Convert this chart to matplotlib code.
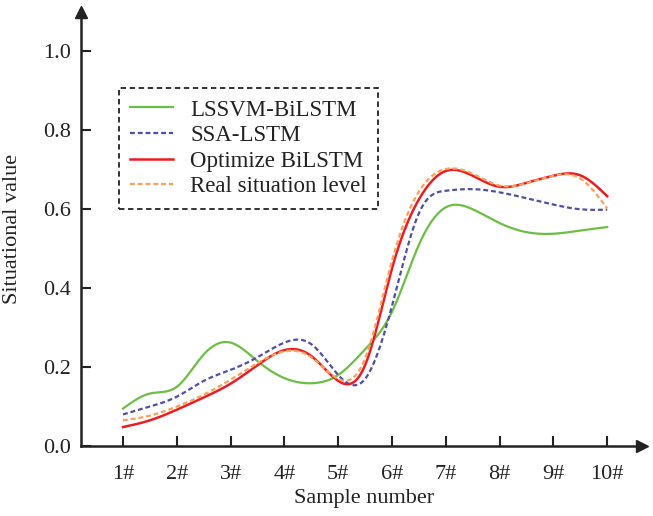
import numpy as np
import matplotlib
matplotlib.use("Agg")
import matplotlib.pyplot as plt

# ─── data (half-sample steps) ─────────────────────────────────────
samples     = np.arange(1, 10.5, 0.5)
tick_pos    = list(range(1, 11))
tick_labels = [f"{i}#" for i in tick_pos]

lssvm_bilstm = [0.095, 0.133, 0.150, 0.232, 0.262, 0.215, 0.172, 0.159, 0.180, 0.245,
                0.340, 0.510, 0.605, 0.600, 0.565, 0.542, 0.538, 0.546, 0.555]
ssa_lstm     = [0.080, 0.100, 0.125, 0.165, 0.193, 0.225, 0.262, 0.258, 0.180, 0.170,
                0.355, 0.590, 0.647, 0.651, 0.643, 0.628, 0.612, 0.600, 0.599]
opt_bilstm   = [0.048, 0.065, 0.092, 0.123, 0.158, 0.205, 0.243, 0.228, 0.165, 0.205,
                0.450, 0.625, 0.697, 0.685, 0.657, 0.667, 0.685, 0.686, 0.633]
real_level   = [0.065, 0.077, 0.100, 0.130, 0.168, 0.210, 0.240, 0.225, 0.170, 0.222,
                0.470, 0.645, 0.702, 0.690, 0.660, 0.666, 0.685, 0.678, 0.602]


def smooth(x, y, n=500):
    """natural cubic spline through the read points"""
    x = np.asarray(x, float); y = np.asarray(y, float)
    k = len(x); h = np.diff(x)
    A = np.zeros((k, k)); b = np.zeros(k)
    A[0, 0] = A[-1, -1] = 1
    for i in range(1, k - 1):
        A[i, i - 1] = h[i - 1]; A[i, i] = 2 * (h[i - 1] + h[i]); A[i, i + 1] = h[i]
        b[i] = 6 * ((y[i + 1] - y[i]) / h[i] - (y[i] - y[i - 1]) / h[i - 1])
    M = np.linalg.solve(A, b)
    xs = np.linspace(x[0], x[-1], n)
    idx = np.clip(np.searchsorted(x, xs) - 1, 0, k - 2)
    x0, x1 = x[idx], x[idx + 1]; hh = x1 - x0
    t0, t1 = x1 - xs, xs - x0
    ys = (M[idx] * t0**3 + M[idx + 1] * t1**3) / (6 * hh) \
        + (y[idx] / hh - M[idx] * hh / 6) * t0 + (y[idx + 1] / hh - M[idx + 1] * hh / 6) * t1
    return xs, ys


plt.rcParams["font.family"] = ["Liberation Serif", "DejaVu Serif"]
plt.rcParams["font.size"] = 16

fig = plt.figure(figsize=(6.53, 5.16), dpi=100)
ax = fig.add_axes([81 / 653, 70 / 516, 561 / 653, 434 / 516])

series = [
    (lssvm_bilstm, "LSSVM-BiLSTM",         "#6cbf45", "-",             1.6),
    (ssa_lstm,     "SSA-LSTM",             "#4f4fa6", (0, (2.2, 1.3)), 1.6),
    (opt_bilstm,   "Optimize BiLSTM",      "#ec1c24", "-",             1.8),
    (real_level,   "Real situation level", "#f7a15a", (0, (2.2, 1.3)), 1.6),
]
for vals, lbl, col, ls, lw in series:
    xs, ys = smooth(samples, vals)
    ax.plot(xs, ys, color=col, ls=ls, lw=lw, label=lbl)

ax.set_xlim(0.219, 10.647)
ax.set_ylim(0, 1.1)
ax.set_xticks(tick_pos, tick_labels)
ax.set_yticks(np.arange(0, 1.01, 0.2))
ax.yaxis.set_major_formatter(matplotlib.ticker.FormatStrFormatter("%.1f"))

for s in ("top", "right"):
    ax.spines[s].set_visible(False)
for s in ("left", "bottom"):
    ax.spines[s].set_linewidth(1.8); ax.spines[s].set_color("#222222")
ax.tick_params(direction="in", length=7, width=1.5, color="#222222", labelcolor="#222222")
ax.tick_params(axis="x", pad=14)
ax.tick_params(axis="y", pad=7)

# arrow heads
ax.plot(1, 0, ">", color="#222222", ms=9, transform=ax.transAxes, clip_on=False)
ax.plot(0, 1, "^", color="#222222", ms=9, transform=ax.transAxes, clip_on=False)

ax.set_xlabel("Sample number", color="#222222")
ax.set_ylabel("Situational value", color="#222222")
ax.xaxis.set_label_coords(0.505, -0.1)
ax.yaxis.set_label_coords(-0.105, 0.5)

leg = ax.legend(loc="upper left", bbox_to_anchor=(119 / 653, 1 - 88 / 516),
                bbox_transform=fig.transFigure, fancybox=False, framealpha=1,
                edgecolor="#222222", fontsize=16.5, labelspacing=0.2, handlelength=1.85,
                handletextpad=0.75, borderpad=0.5, borderaxespad=0)
leg.get_frame().set_linestyle((0, (3, 2)))
leg.get_frame().set_linewidth(1.3)
for t in leg.get_texts():
    t.set_color("#222222")

fig.savefig("out.png", dpi=100)
